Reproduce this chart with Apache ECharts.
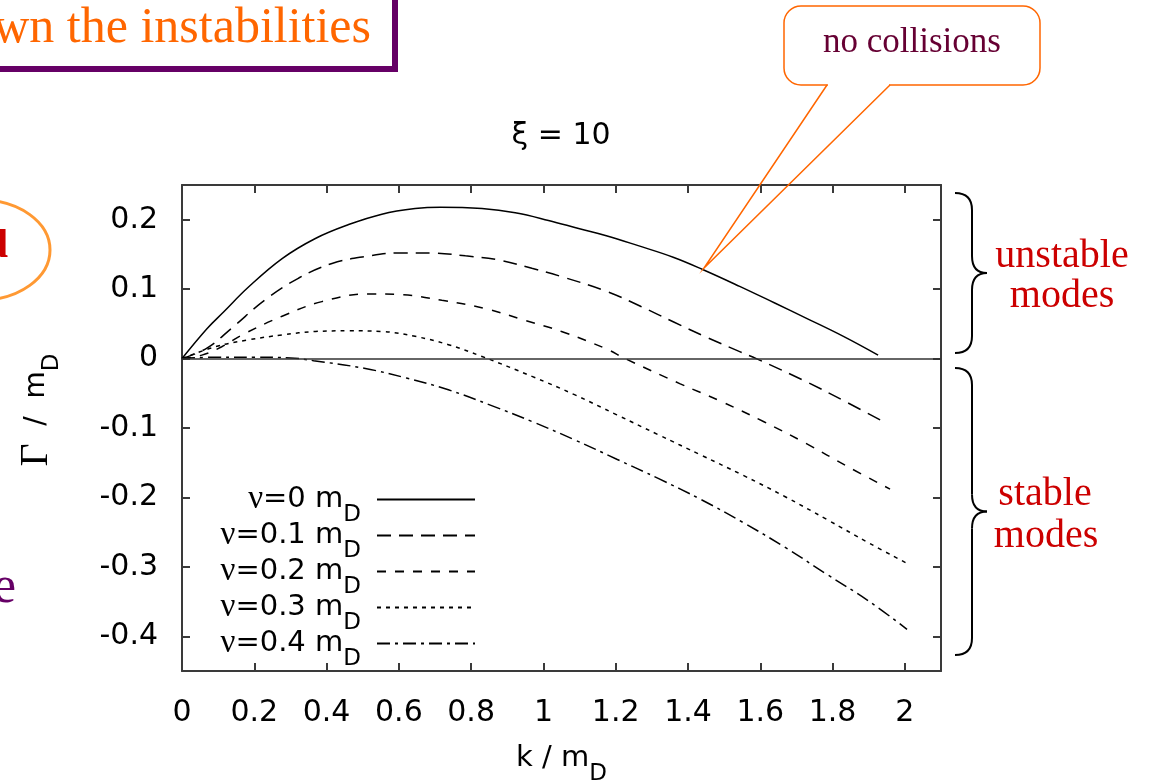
<!DOCTYPE html>
<html><head><meta charset="utf-8">
<script src="https://cdn.jsdelivr.net/npm/echarts@6/dist/echarts.min.js"></script>
<style>html,body{margin:0;padding:0;background:#fff}#c{width:1151px;height:782px}</style>
</head><body><div id="c"></div>
<script>
// ---- data ----
const nuLabels = ['0', '0.1', '0.2', '0.3', '0.4'];
const kTicks = [0, 0.2, 0.4, 0.6, 0.8, 1, 1.2, 1.4, 1.6, 1.8, 2];
const gTicks = [-0.4, -0.3, -0.2, -0.1, 0, 0.1, 0.2];

const kNu0 = [0, 0.069, 0.115, 0.184, 0.277, 0.369, 0.461, 0.553, 0.645, 0.715, 0.83, 0.922, 1.014, 1.1, 1.174, 1.26, 1.359, 1.442, 1.543, 1.64, 1.728, 1.83, 1.926];
const gNu0 = [0, 0.043, 0.067, 0.103, 0.144, 0.173, 0.193, 0.208, 0.216, 0.218, 0.216, 0.210, 0.199, 0.187, 0.177, 0.163, 0.146, 0.128, 0.104, 0.080, 0.058, 0.032, 0.005];

const kNu1 = [0, 0.069, 0.138, 0.231, 0.323, 0.415, 0.507, 0.599, 0.691, 0.784, 0.876, 0.968, 1.05, 1.174, 1.27, 1.359, 1.45, 1.543, 1.589, 1.726, 1.843, 1.948];
const gNu1 = [0, 0.015, 0.044, 0.085, 0.116, 0.137, 0.147, 0.152, 0.152, 0.148, 0.142, 0.130, 0.118, 0.097, 0.075, 0.053, 0.031, 0.010, 0.0, -0.033, -0.064, -0.093];

const kNu2 = [0, 0.055, 0.11, 0.166, 0.277, 0.387, 0.516, 0.609, 0.719, 0.839, 0.95, 1.05, 1.174, 1.226, 1.377, 1.493, 1.61, 1.726, 1.843, 1.959];
const gNu2 = [0, 0.005, 0.017, 0.034, 0.061, 0.082, 0.093, 0.092, 0.084, 0.072, 0.055, 0.039, 0.014, 0.0, -0.036, -0.062, -0.091, -0.122, -0.156, -0.188];

const kNu3 = [0, 0.092, 0.184, 0.277, 0.369, 0.461, 0.553, 0.645, 0.737, 0.83, 0.97, 1.086, 1.203, 1.319, 1.436, 1.552, 1.669, 1.785, 1.902, 2.006];
const gNu3 = [0, 0.017, 0.027, 0.034, 0.039, 0.040, 0.039, 0.032, 0.020, 0.003, -0.026, -0.052, -0.081, -0.110, -0.139, -0.168, -0.199, -0.232, -0.266, -0.295];

const kNu4 = [0, 0.1, 0.2, 0.3, 0.364, 0.504, 0.621, 0.737, 0.853, 0.97, 1.086, 1.203, 1.319, 1.436, 1.552, 1.669, 1.785, 1.902, 2.006];
const gNu4 = [0, 0.002, 0.002, 0.001, -0.003, -0.014, -0.028, -0.045, -0.067, -0.091, -0.117, -0.145, -0.173, -0.203, -0.236, -0.272, -0.311, -0.350, -0.390];

const kAll = [kNu0, kNu1, kNu2, kNu3, kNu4];
const gAll = [gNu0, gNu1, gNu2, gNu3, gNu4];
const dashes = ['solid', [14, 8], [9, 9], [4, 5], [13, 5, 3, 5]];

const seriesNames = nuLabels.map(v => 'ν=' + v + ' mD');
const SANS = '"DejaVu Sans", sans-serif';
const SERIF = '"Liberation Serif", "Times New Roman", serif';

const subRich = (pr, fs, gfs) => ({
  nu: { fontFamily: SERIF, fontSize: fs + 4, color: '#000', verticalAlign: 'middle' },
  g: { fontFamily: SERIF, fontSize: gfs || fs + 4, color: '#000', verticalAlign: 'middle' },
  t: { fontFamily: SANS, fontSize: fs, color: '#000', verticalAlign: 'middle' },
  sub: { fontFamily: SANS, fontSize: 23, color: '#000', verticalAlign: 'middle', padding: [32, pr, 0, 0] }
});

const series = seriesNames.map((name, i) => {
  const s = {
    name, type: 'line', symbol: 'none', smooth: 0.4,
    xAxisIndex: 0, yAxisIndex: 0,
    lineStyle: { color: '#000', width: 1.5, type: dashes[i] },
    itemStyle: { color: '#000' },
    data: kAll[i].map((k, j) => [k, gAll[i][j]]),
    z: 3
  };
  if (i === 0) {
    s.markLine = {
      silent: true, symbol: 'none', label: { show: false },
      lineStyle: { type: 'solid', color: '#333', width: 1.6 },
      data: [{ yAxis: 0 }]
    };
  }
  return s;
});

// curly brace built from bezier curves and lines (decoration)
function brace(x0, top, bottom, tipX) {
  const mid = (top + bottom) / 2, xm = x0 + 17;
  const st = { fill: 'none', stroke: '#000', lineWidth: 2 };
  return [
    { type: 'bezierCurve', z: 20, shape: { x1: x0, y1: top, cpx1: x0 + 11, cpy1: top, cpx2: xm, cpy2: top + 6, x2: xm, y2: top + 17 }, style: st },
    { type: 'line', z: 20, shape: { x1: xm, y1: top + 17, x2: xm, y2: mid - 17 }, style: st },
    { type: 'bezierCurve', z: 20, shape: { x1: xm, y1: mid - 17, cpx1: xm, cpy1: mid - 6, cpx2: xm + 5, cpy2: mid, x2: tipX, y2: mid }, style: st },
    { type: 'bezierCurve', z: 20, shape: { x1: tipX, y1: mid, cpx1: xm + 5, cpy1: mid, cpx2: xm, cpy2: mid + 6, x2: xm, y2: mid + 17 }, style: st },
    { type: 'line', z: 20, shape: { x1: xm, y1: mid + 17, x2: xm, y2: bottom - 17 }, style: st },
    { type: 'bezierCurve', z: 20, shape: { x1: xm, y1: bottom - 17, cpx1: xm, cpy1: bottom - 6, cpx2: x0 + 11, cpy2: bottom, x2: x0, y2: bottom }, style: st }
  ];
}

const fmt = v => String(+(+v).toFixed(1));
const axisLineStyle = { color: '#3a3a3a', width: 2 };

const yNameRich = subRich(0, 28, 40);

const chart = echarts.init(document.getElementById('c'));
chart.setOption({
  animation: false,
  backgroundColor: '#fff',
  title: {
    text: 'ξ = 10', left: 556, top: 116, textAlign: 'center',
    textStyle: { fontFamily: SANS, fontSize: 30, fontWeight: 'normal', color: '#000' }
  },
  grid: { left: 182, right: 210, top: 185, bottom: 111, containLabel: false, outerBoundsMode: 'none' },
  legend: {
    orient: 'vertical', right: 675, top: 483, padding: 0, align: 'right',
    itemWidth: 98, itemHeight: 14, itemGap: -8, selectedMode: false,
    data: seriesNames,
    itemStyle: { color: 'rgba(0,0,0,0)', borderColor: 'rgba(0,0,0,0)', borderWidth: 0, opacity: 0 },
    formatter: name => '{nu|ν}{t|=' + name.slice(2, name.indexOf(' ')) + ' m}{sub|D}',
    textStyle: { color: '#000', rich: subRich(11, 29) }
  },
  xAxis: [{
    type: 'value', min: 0, max: 2.1, position: 'bottom',
    name: '{t|k / m}{sub|D}', nameLocation: 'middle', nameGap: 60,
    nameTextStyle: { rich: subRich(0, 29) },
    axisLine: { show: true, onZero: false, lineStyle: axisLineStyle },
    axisTick: { show: true, inside: true, length: 8, customValues: kTicks, lineStyle: axisLineStyle },
    axisLabel: { customValues: kTicks, formatter: fmt, margin: 27, fontFamily: SANS, fontSize: 30, color: '#000' },
    splitLine: { show: false }
  }, {
    type: 'value', min: 0, max: 2.1, position: 'top',
    axisLine: { show: true, onZero: false, lineStyle: axisLineStyle },
    axisTick: { show: true, inside: true, length: 8, customValues: kTicks, lineStyle: axisLineStyle },
    axisLabel: { show: false }, splitLine: { show: false }
  }],
  yAxis: [{
    type: 'value', min: -0.45, max: 0.25, position: 'left',
    name: '{g|Γ}{t|  /  m}{sub|D}', nameLocation: 'middle', nameGap: 118, nameRotate: 90,
    nameTextStyle: { rich: yNameRich, padding: [0, 0, 0, 36] },
    axisLine: { show: true, onZero: false, lineStyle: axisLineStyle },
    axisTick: { show: true, inside: true, length: 8, customValues: gTicks, lineStyle: axisLineStyle },
    axisLabel: { customValues: gTicks, formatter: fmt, margin: 24, fontFamily: SANS, fontSize: 30, color: '#000' },
    splitLine: { show: false }
  }, {
    type: 'value', min: -0.45, max: 0.25, position: 'right',
    axisLine: { show: true, onZero: false, lineStyle: axisLineStyle },
    axisTick: { show: true, inside: true, length: 8, customValues: gTicks, lineStyle: axisLineStyle },
    axisLabel: { show: false }, splitLine: { show: false }
  }],
  series,
  graphic: [
    { type: 'rect', shape: { x: -20, y: -20, width: 415, height: 89 },
      style: { fill: '#fff', stroke: '#660066', lineWidth: 6 }, z: 10 },
    { type: 'text', x: 371, y: 29, z: 11,
      style: { text: 'wn the instabilities', font: '50px ' + SERIF, fill: '#FF6600', align: 'right', verticalAlign: 'middle' } },
    { type: 'ellipse', shape: { cx: -19, cy: 250, rx: 69, ry: 50 },
      style: { fill: 'none', stroke: '#FF9933', lineWidth: 3 }, z: 10 },
    { type: 'text', x: 8, y: 247, z: 11,
      style: { text: 'd', font: 'bold 40px ' + SERIF, fill: '#CC0000', align: 'right', verticalAlign: 'middle' } },
    { type: 'text', x: 16, y: 588, z: 11,
      style: { text: 'e', font: '52px ' + SERIF, fill: '#660066', align: 'right', verticalAlign: 'middle' } },
    // callout box
    { type: 'rect', z: 20, shape: { x: 784, y: 6, width: 256, height: 79, r: 17 },
      style: { fill: '#fff', stroke: '#FF6600', lineWidth: 1.5 } },
    { type: 'line', z: 21, shape: { x1: 828, y1: 85, x2: 889, y2: 85 },
      style: { stroke: '#fff', lineWidth: 3 } },
    { type: 'polyline', z: 22, shape: { points: [[827, 85], [704, 268], [890, 85]] },
      style: { fill: 'none', stroke: '#FF6600', lineWidth: 1.5 } },
    { type: 'text', x: 912, y: 43, z: 23,
      style: { text: 'no collisions', font: '35px ' + SERIF, fill: '#660033', align: 'center', verticalAlign: 'middle' } },
    ...brace(955, 193, 353, 987),
    ...brace(955, 368, 655, 987),
    { type: 'text', x: 1062, y: 256, z: 21,
      style: { text: 'unstable', font: '40px ' + SERIF, fill: '#CC0000', align: 'center', verticalAlign: 'middle' } },
    { type: 'text', x: 1062, y: 296, z: 21,
      style: { text: 'modes', font: '40px ' + SERIF, fill: '#CC0000', align: 'center', verticalAlign: 'middle' } },
    { type: 'text', x: 1045, y: 494, z: 21,
      style: { text: 'stable', font: '40px ' + SERIF, fill: '#CC0000', align: 'center', verticalAlign: 'middle' } },
    { type: 'text', x: 1046, y: 536, z: 21,
      style: { text: 'modes', font: '40px ' + SERIF, fill: '#CC0000', align: 'center', verticalAlign: 'middle' } }
  ]
});
</script></body></html>
